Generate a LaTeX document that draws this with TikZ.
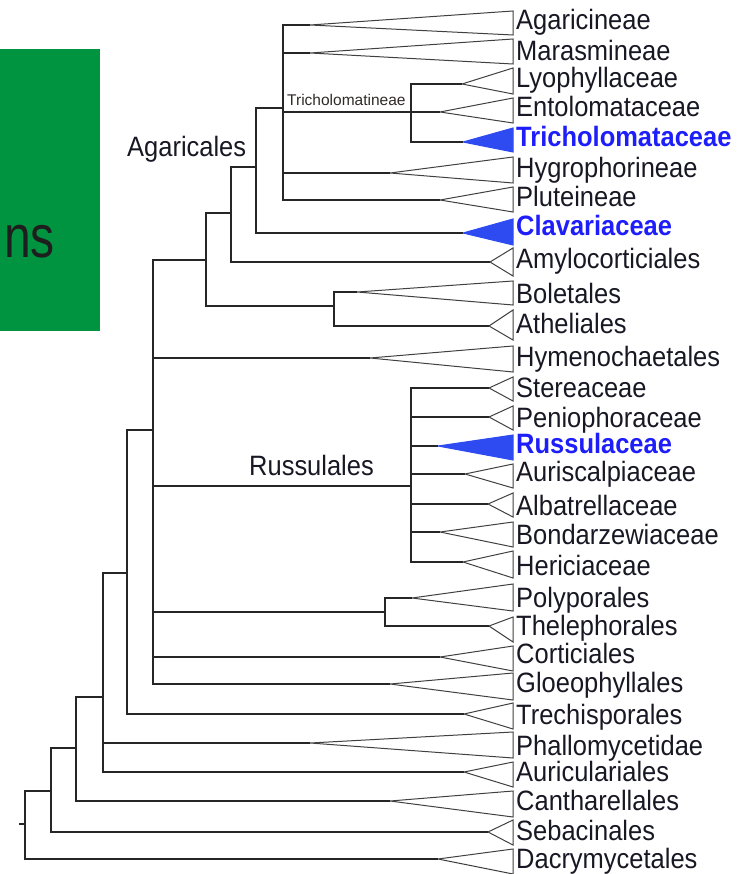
\documentclass[tikz,border=0pt]{standalone}
\usepackage{fontspec}
\setmainfont{Liberation Sans}[FakeStretch=0.91]
\newfontfamily\smallsans{Liberation Sans}
\newfontfamily\bigsans{Liberation Sans}[FakeStretch=0.8]
\definecolor{boxgreen}{RGB}{0,148,64}
\definecolor{labelgray}{RGB}{24,24,36}
\definecolor{hiblue}{RGB}{30,30,250}
\definecolor{cladeblue}{RGB}{45,75,240}
\tikzset{
  branch/.style={line width=1.4pt, draw=black!85},
  clade/.style={line width=1pt, draw=black!75, line join=miter},
  cladehi/.style={clade, draw=cladeblue, fill=cladeblue},
  taxon/.style={anchor=base west, inner sep=0pt, text=labelgray, font=\fontsize{28}{28}\selectfont},
  taxonhi/.style={taxon, text=hiblue, font=\fontsize{28}{28}\selectfont\bfseries},
  grouplabel/.style={anchor=base west, inner sep=0pt, text=labelgray, font=\fontsize{28}{28}\selectfont},
  smallgroup/.style={anchor=base west, inner sep=0pt, text=labelgray!85!brown, font=\smallsans\fontsize{15.5}{15.5}\selectfont},
}
% #1 name, #2 apex x, #3 apex y, #4 top y, #5 bottom y, #6 baseline, #7 text, #8 triangle style, #9 label style
\newcommand\tipclade[9]{%
  \coordinate (#1) at (#2,#3);
  \draw[#8] (#1) -- (513,#4) -- (513,#5) -- cycle;
  \node[#9] (#1-l) at (516,#6) {#7};
}
\begin{document}
\begin{tikzpicture}[x=1pt,y=-1pt]
\useasboundingbox (0,0) rectangle (748,874);
% green box
\fill[boxgreen] (0,49) rectangle (100,331);
\node[anchor=base east, inner sep=0pt, text={rgb,255:red,30;green,30;blue,30}, font=\bigsans\fontsize{60}{60}\selectfont] (ns) at (55,258) {ns};

% tips
\tipclade{agar}{310}{25}{11}{35}{30}{Agaricineae}{clade}{taxon}
\tipclade{maras}{310}{53}{39}{64}{61}{Marasmineae}{clade}{taxon}
\tipclade{lyo}{462}{84}{68}{94}{88}{Lyophyllaceae}{clade}{taxon}
\tipclade{ento}{440}{112}{98}{123}{117}{Entolomataceae}{clade}{taxon}
\tipclade{tricho}{463}{142}{128}{152}{147}{Tricholomataceae}{cladehi}{taxonhi}
\tipclade{hygro}{390}{173}{157}{183}{178}{Hygrophorineae}{clade}{taxon}
\tipclade{plut}{440}{200}{187}{212}{207}{Pluteineae}{clade}{taxon}
\tipclade{clav}{463}{233}{219}{245}{236}{Clavariaceae}{cladehi}{taxonhi}
\tipclade{amylo}{490}{262}{248}{276}{269}{Amylocorticiales}{clade}{taxon}
\tipclade{bolet}{357}{292}{281}{305}{303}{Boletales}{clade}{taxon}
\tipclade{athel}{489}{326}{310}{340}{333}{Atheliales}{clade}{taxon}
\tipclade{hymeno}{370}{358}{346}{372}{366}{Hymenochaetales}{clade}{taxon}
\tipclade{stere}{489}{388}{377}{401}{397}{Stereaceae}{clade}{taxon}
\tipclade{penio}{489}{417}{406}{430}{427}{Peniophoraceae}{clade}{taxon}
\tipclade{russ}{438}{446}{435}{460}{453}{Russulaceae}{cladehi}{taxonhi}
\tipclade{auris}{465}{474}{464}{488}{481}{Auriscalpiaceae}{clade}{taxon}
\tipclade{albat}{488}{504}{493}{517}{515}{Albatrellaceae}{clade}{taxon}
\tipclade{bond}{440}{532}{522}{547}{544}{Bondarzewiaceae}{clade}{taxon}
\tipclade{heric}{463}{562}{551}{578}{575}{Hericiaceae}{clade}{taxon}
\tipclade{polyp}{412}{598}{584}{611}{607}{Polyporales}{clade}{taxon}
\tipclade{theleph}{489}{626}{617}{642}{635}{Thelephorales}{clade}{taxon}
\tipclade{cortic}{440}{657}{646}{671}{663}{Corticiales}{clade}{taxon}
\tipclade{gloeo}{390}{684}{673}{700}{692}{Gloeophyllales}{clade}{taxon}
\tipclade{trech}{464}{714}{703}{729}{724}{Trechisporales}{clade}{taxon}
\tipclade{phallo}{310}{743}{732}{758}{755}{Phallomycetidae}{clade}{taxon}
\tipclade{auric}{464}{772}{762}{787}{781}{Auriculariales}{clade}{taxon}
\tipclade{canth}{390}{801}{791}{817}{810}{Cantharellales}{clade}{taxon}
\tipclade{sebac}{488}{832}{820}{845}{840}{Sebacinales}{clade}{taxon}
\tipclade{dacry}{438}{859}{849}{874}{868}{Dacrymycetales}{clade}{taxon}

% internal nodes (x of vertical bar, y where parent attaches)
\coordinate (nTrich) at (411,112);
\coordinate (nCore) at (283,108);
\coordinate (nAgarc) at (256,167);
\coordinate (n231) at (231,213);
\coordinate (nBA) at (334,306);
\coordinate (n206) at (206,260);
\coordinate (nRuss) at (411,486);
\coordinate (nPT) at (385,612);
\coordinate (n153) at (153,430);
\coordinate (n127) at (127,573);
\coordinate (n103) at (103,697);
\coordinate (n76) at (76,748);
\coordinate (n51) at (51,791);
\coordinate (n25) at (25,824);
\coordinate (root) at (19,824);

\begin{scope}[branch]
\draw (nTrich) |- (lyo); \draw (nTrich) -- (ento); \draw (nTrich) |- (tricho);
\draw (nCore) |- (agar); \draw (nCore) |- (maras); \draw (nCore) |- (nTrich);
\draw (nCore) |- (hygro); \draw (nCore) |- (plut);
\draw (nAgarc) |- (nCore); \draw (nAgarc) |- (clav);
\draw (n231) |- (nAgarc); \draw (n231) |- (amylo);
\draw (nBA) |- (bolet); \draw (nBA) |- (athel);
\draw (n206) |- (n231); \draw (n206) |- (nBA);
\foreach \t in {stere,penio,russ,auris,albat,bond,heric} \draw (nRuss) |- (\t);
\draw (nPT) |- (polyp); \draw (nPT) |- (theleph);
\foreach \t in {n206,hymeno,nRuss,nPT,cortic,gloeo} \draw (n153) |- (\t);
\draw (n127) |- (n153); \draw (n127) |- (trech);
\draw (n103) |- (n127); \draw (n103) |- (phallo); \draw (n103) |- (auric);
\draw (n76) |- (n103); \draw (n76) |- (canth);
\draw (n51) |- (n76); \draw (n51) |- (sebac);
\draw (n25) |- (n51); \draw (n25) |- (dacry);
\draw (root) -- (n25);
\end{scope}

% group labels
\node[grouplabel] (agaricales) at (127,157) {Agaricales};
\node[grouplabel] (russulales) at (249,475) {Russulales};
\node[smallgroup] (tricholomatineae) at (287,106) {Tricholomatineae};
\end{tikzpicture}
\end{document}
